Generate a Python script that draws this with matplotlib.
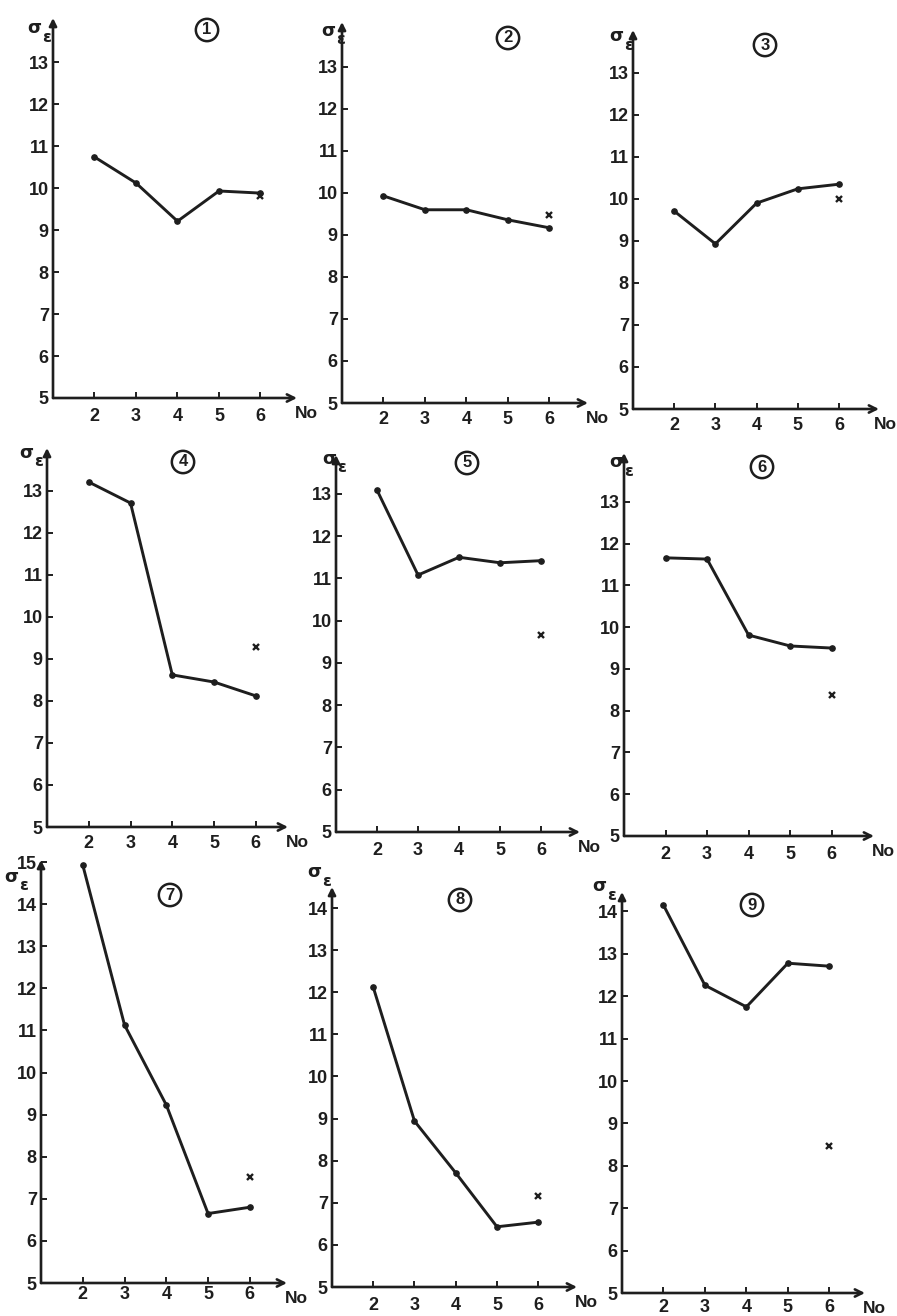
import matplotlib.pyplot as plt

plt.rcParams['font.family'] = ['Liberation Sans Narrow', 'Liberation Sans', 'DejaVu Sans']
plt.rcParams['font.weight'] = 'bold'

INK = '#1e1e1e'
W, H = 897, 1316

No = [2, 3, 4, 5, 6]

sigma_1 = [10.74, 10.12, 9.21, 9.93, 9.88]
sigma_2 = [9.93, 9.60, 9.60, 9.36, 9.17]
sigma_3 = [9.71, 8.93, 9.90, 10.24, 10.35]
sigma_4 = [13.21, 12.71, 8.62, 8.45, 8.12]
sigma_5 = [13.09, 11.08, 11.50, 11.37, 11.42]
sigma_6 = [11.66, 11.63, 9.81, 9.55, 9.50]
sigma_7 = [14.93, 11.13, 9.23, 6.65, 6.80]
sigma_8 = [12.12, 8.94, 7.71, 6.43, 6.54]
sigma_9 = [14.15, 12.26, 11.75, 12.78, 12.71]
series = [sigma_1, sigma_2, sigma_3, sigma_4, sigma_5,
          sigma_6, sigma_7, sigma_8, sigma_9]

# separate estimate at No = 6 (the little crosses)
cross_6 = [9.80, 9.48, 10.00, 9.29, 9.66, 8.38, 7.52, 7.15, 8.47]

top_tick = [13, 13, 13, 13, 13, 13, 15, 14, 14]

# panel frames in pixels: left, bottom, right, top
frames = [
    (53, 398, 297, 18), (342, 403, 588, 22), (633, 409, 879, 30),
    (47, 827, 288, 448), (336, 832, 580, 455), (624, 836, 874, 453),
    (41, 1283, 287, 860), (332, 1287, 577, 887), (622, 1293, 865, 892),
]
x_max = [6.88, 6.93, 6.97, 6.77, 6.95, 7.02, 6.89, 6.94, 6.86]
y_max = [14.05, 14.07, 14.02, 14.02, 13.92, 14.17, 15.05, 14.5, 14.46]
# gap under the x axis for the No tick labels, points
x_pad = [7.5, 6, 5.5, 6, 7, 7.5, 2.5, 7, 4]
# shift of the "No" caption from the arrow tip, points
no_dx = [-1.5, -1.5, -3.5, -1.5, -1.5, -1.5, -1.5, -1.5, -1.5]
# centres of the circled panel numbers, pixels
badges = [(207, 30), (508, 38), (765, 45), (183, 462), (467, 463),
          (762, 467), (170, 895), (460, 900), (752, 905)]
# where the sigma_eps axis label sits, pixels
sig_pos = [(34, 28), (328, 31), (616, 36), (26, 453), (329, 459),
           (616, 462), (11, 877), (314, 872), (599, 886)]

fig = plt.figure(figsize=(W / 100, H / 100), dpi=100)
fig.patch.set_facecolor('white')

for i in range(9):
    l, b, r, t = frames[i]
    ax = fig.add_axes([l / W, 1 - b / H, (r - l) / W, (b - t) / H])
    ax.set_xlim(1, x_max[i])
    ax.set_ylim(5, y_max[i])
    ax.patch.set_alpha(0)
    for s in ax.spines.values():
        s.set_visible(False)

    # axes as arrows
    ax.annotate('', xy=(1, 0), xytext=(0, 0), xycoords='axes fraction',
                arrowprops=dict(arrowstyle='->', lw=1.9, color=INK,
                                mutation_scale=13, shrinkA=0, shrinkB=0))
    ax.annotate('', xy=(0, 1), xytext=(0, 0), xycoords='axes fraction',
                arrowprops=dict(arrowstyle='-|>', lw=1.9, color=INK,
                                mutation_scale=11, shrinkA=0, shrinkB=0))

    ax.set_xticks(No)
    ax.set_yticks(range(5, top_tick[i] + 1))
    ax.tick_params(direction='in', length=4, width=1.4, colors=INK,
                   labelsize=13, pad=3)
    ax.tick_params(axis='x', pad=x_pad[i])

    ax.plot(No, series[i], color=INK, lw=2.1, marker='o', ms=3.8,
            solid_joinstyle='round', clip_on=False)
    ax.plot([6], [cross_6[i]], ls='none', marker='x', ms=5, mew=1.7,
            color=INK)

    ax.annotate('No', xy=(1, 0), xycoords='axes fraction',
                xytext=(no_dx[i], -6), textcoords='offset points',
                ha='left', va='top', fontsize=12.5, color=INK)

    sx, sy = sig_pos[i]
    fig.text(sx / W, 1 - sy / H, 'σ', ha='center', va='center',
             fontsize=13, weight='bold', family='DejaVu Sans', color=INK)
    fig.text((sx + 13) / W, 1 - (sy + 9) / H, 'ε', ha='center', va='center',
             fontsize=11.5, weight='bold', family='DejaVu Sans', color=INK)

    cx, cy = badges[i]
    fig.text(cx / W, 1 - cy / H, str(i + 1), ha='center', va='center',
             fontsize=12, color=INK,
             bbox=dict(boxstyle='circle,pad=0.22', fc='none', ec=INK, lw=1.8))

fig.savefig('out.png', dpi=100, facecolor='white')
